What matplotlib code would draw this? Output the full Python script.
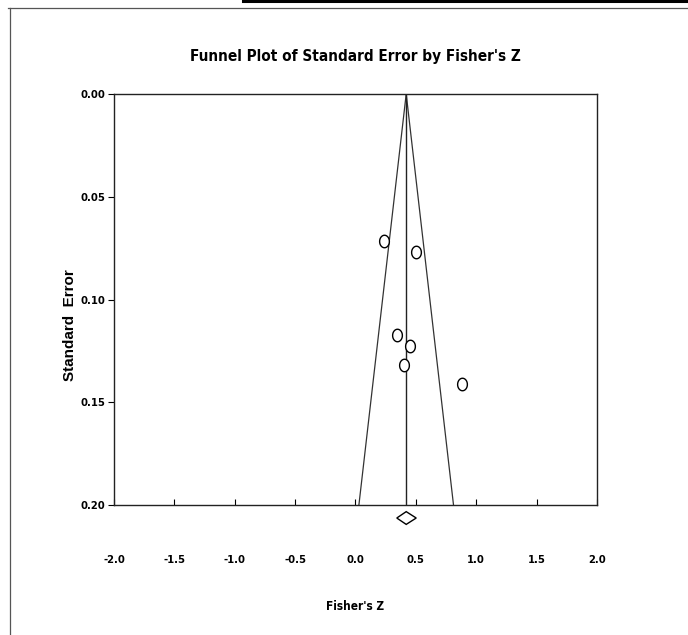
import matplotlib
matplotlib.use("Agg")
import matplotlib.pyplot as plt
from matplotlib.lines import Line2D
from matplotlib.path import Path
import numpy as np

# Study estimates
fisher_z = [0.234, 0.500, 0.345, 0.450, 0.400, 0.878]
std_err = [0.0714, 0.0770, 0.1174, 0.1226, 0.1320, 0.1410]

pooled_z = 0.42
pooled_lo = 0.342
pooled_hi = 0.503
se_max = 0.20

x_ticks = [-2.0, -1.5, -1.0, -0.5, 0.0, 0.5, 1.0, 1.5, 2.0]
y_ticks = [0.00, 0.05, 0.10, 0.15, 0.20]

narrow = ['DejaVu Sans']
wide = ['Liberation Sans', 'DejaVu Sans']

fig = plt.figure(figsize=(6.88, 6.35), dpi=100)
ax = fig.add_axes([0.1657, 0.2043, 0.702, 0.6477])

# funnel (pooled +/- 1.96 SE) and centre line
se_line = np.array([0.0, se_max])
ax.plot(pooled_z - 1.96 * se_line, se_line, color='#333333', lw=0.9)
ax.plot(pooled_z + 1.96 * se_line, se_line, color='#333333', lw=0.9)
ax.plot([pooled_z, pooled_z], [0.0, se_max], color='#222222', lw=1.0)

# slightly tall open circles
t = np.linspace(0, 2 * np.pi, 40)
ellipse = Path(np.column_stack([0.78 * np.cos(t), np.sin(t)]))
ax.plot(fisher_z, std_err, ls='none', marker=ellipse, ms=9, mfc='white',
        mec='black', mew=1.0, zorder=3)

# summary diamond below the axis
d_y = 0.2062
d_h = 0.0031
ax.fill([pooled_lo, pooled_z, pooled_hi, pooled_z],
        [d_y, d_y - d_h, d_y, d_y + d_h], facecolor='white',
        edgecolor='black', lw=1.0, clip_on=False, zorder=4)

ax.set_xlim(-2.0, 2.0)
ax.set_ylim(se_max, 0.0)
ax.set_xticks(x_ticks)
ax.set_yticks(y_ticks)
ax.set_xticklabels(['%.1f' % v for v in x_ticks], fontfamily=narrow,
                   fontstretch='condensed', fontweight='bold', fontsize=8)
ax.set_yticklabels(['%.2f' % v for v in y_ticks], fontfamily=narrow,
                   fontstretch='condensed', fontweight='bold', fontsize=8)
ax.tick_params(axis='x', direction='in', length=4, width=0.8, pad=36)
ax.tick_params(axis='y', direction='out', length=4, width=0.8, pad=2)
for s in ax.spines.values():
    s.set_linewidth(1.0)
    s.set_color('#222222')

ax.set_title("Funnel Plot of Standard Error by Fisher's Z", fontfamily=narrow,
             fontstretch='condensed', fontweight='bold', fontsize=11, pad=24)
ax.set_xlabel("Fisher's Z", fontfamily=narrow, fontstretch='condensed',
              fontweight='bold', fontsize=8.5, labelpad=25)
ax.set_ylabel("Standard  Error", fontfamily=wide, fontweight='bold',
              fontsize=11)
ax.yaxis.set_label_coords(-0.077, 0.438)

# page frame around the scanned figure
W, H = 688.0, 635.0
fig.add_artist(Line2D([8 / W, 1.0], [1 - 8 / H, 1 - 8 / H], color='#555555',
                      lw=0.9, transform=fig.transFigure))
fig.add_artist(Line2D([10 / W, 10 / W], [0.0, 1 - 8 / H], color='#555555',
                      lw=0.9, transform=fig.transFigure))
fig.add_artist(Line2D([243 / W, 1.0], [1 - 1.2 / H, 1 - 1.2 / H],
                      color='black', lw=2.2, transform=fig.transFigure))

fig.savefig('out.png', dpi=100)
